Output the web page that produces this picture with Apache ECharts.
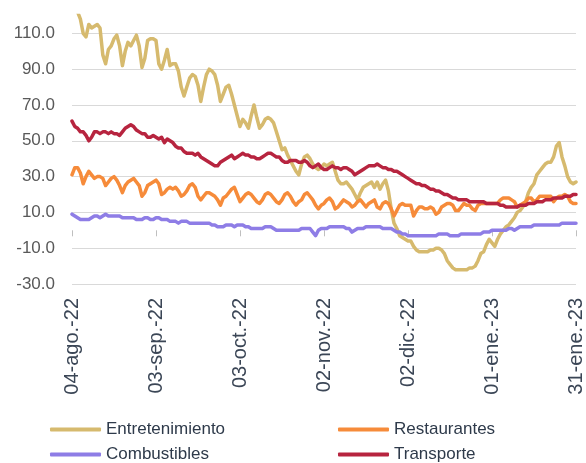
<!DOCTYPE html>
<html>
<head>
<meta charset="utf-8">
<script src="https://cdn.jsdelivr.net/npm/echarts@6/dist/echarts.min.js"></script>
<style>
  html, body { margin: 0; padding: 0; background: #fff; }
  #chart { width: 586px; height: 463px; }
</style>
</head>
<body>
<div id="chart"></div>
<script>
// fechas diarias 04-ago-22 .. 31-ene-23
const startDate = '2022-08-04'
const dayCount = 181
const monthNames = ['ene.', 'feb.', 'mar.', 'abr.', 'may.', 'jun.', 'jul.', 'ago.', 'sep.', 'oct.', 'nov.', 'dic.']

const yTicks = { min: -30, max: 120, interval: 20 }

const entretenimiento = [
  128, 125, 122, 118, 110, 108, 115, 113, 114, 115,
  113, 98, 93, 101, 103, 107, 109, 103, 92, 100,
  105, 103, 106, 109, 103, 91, 96, 106, 107, 107,
  106, 93, 90, 95, 101, 92, 93, 93, 89, 80,
  75, 80, 85, 87, 86, 81, 72, 80, 87, 90,
  89, 87, 81, 72, 76, 80, 81, 76, 70, 64,
  58, 62, 60, 57, 64, 70, 63, 57, 59, 62,
  63, 62, 60, 55, 50, 45, 46, 42, 39, 36,
  33, 31, 37, 41, 42, 40, 37, 35, 34, 35,
  37, 36, 37, 38, 33, 28, 26, 26, 27, 25,
  23, 20, 17, 21, 24, 25, 26, 27, 24, 27,
  23, 26, 28, 22, 12, 4, 1, -3, -4, -5,
  -6, -6, -9, -11, -12, -12, -12, -12, -11, -11,
  -10, -10, -11, -13, -17, -19, -21, -22, -22, -22,
  -22, -22, -21, -21, -20, -17, -13, -12, -8, -5,
  -7, -9, -5, -2, 0, 2, 3, 5, 7, 10,
  11, 13, 16, 21, 24, 26, 31, 33, 35, 37,
  38, 38, 41, 47, 49, 41, 36, 30, 27, 26,
  27
]

const restaurantes = [
  31, 35, 35, 32, 26, 30, 33, 31, 29, 30,
  30, 29, 25, 27, 29, 30, 28, 25, 21, 25,
  27, 28, 29, 27, 25, 19, 21, 25, 26, 27,
  28, 26, 20, 21, 23, 24, 23, 24, 22, 19,
  20, 22, 25, 26, 24, 19, 17, 19, 21, 21,
  20, 19, 17, 14, 18, 19, 21, 23, 24, 20,
  16, 18, 20, 21, 20, 18, 16, 15, 17, 20,
  21, 20, 18, 16, 15, 17, 20, 21, 19, 16,
  14, 16, 17, 20, 21, 19, 17, 14, 12, 14,
  15, 17, 18, 16, 12, 13, 15, 17, 16, 15,
  13, 14, 16, 17, 15, 13, 15, 16, 17, 13,
  12, 15, 16, 15, 12, 8, 11, 14, 15, 14,
  14, 14, 8, 11, 13, 13, 12, 12, 13, 12,
  9, 10, 13, 14, 15, 15, 14, 11, 11, 13,
  15, 14, 14, 12, 11, 14, 15, 15, 15, 15,
  15, 15, 15, 17, 18, 18, 18, 17, 16, 13,
  14, 15, 16, 18, 18, 16, 17, 19, 19, 19,
  19, 19, 16, 18, 19, 19, 20, 19, 16, 15,
  15
]

const combustibles = [
  9, 8, 7, 6, 6, 6, 6, 7, 8, 8,
  7, 8, 9, 8, 8, 8, 8, 8, 7, 7,
  7, 7, 7, 6, 6, 6, 7, 7, 6, 6,
  7, 7, 6, 6, 6, 5, 5, 5, 4, 5,
  5, 5, 4, 4, 4, 4, 4, 4, 4, 4,
  3, 3, 2, 2, 2, 3, 3, 3, 2, 3,
  3, 3, 2, 2, 1, 1, 1, 1, 1, 2,
  2, 2, 1, 0, 0, 0, 0, 0, 0, 0,
  0, 0, 1, 1, 1, 1, -1, -3, 0, 1,
  1, 1, 2, 2, 2, 2, 2, 2, 1, 1,
  -1, 0, 1, 1, 1, 2, 2, 2, 2, 2,
  2, 1, 1, 1, 1, 0, -1, -1, -2, -2,
  -3, -3, -3, -3, -3, -3, -3, -3, -3, -3,
  -3, -2, -2, -2, -2, -3, -3, -3, -3, -2,
  -2, -2, -2, -2, -2, -2, -2, -1, -1, -1,
  0, 0, 0, 0, 0, 0, 1, 1, 0, 1,
  2, 2, 2, 2, 2, 3, 3, 3, 3, 3,
  3, 3, 3, 3, 3, 4, 4, 4, 4, 4,
  4
]

const transporte = [
  61, 58, 57, 55, 55, 53, 50, 52, 55, 55,
  54, 55, 55, 54, 55, 54, 54, 53, 55, 57,
  58, 59, 58, 56, 55, 54, 54, 52, 52, 53,
  52, 51, 52, 49, 51, 50, 49, 47, 46, 46,
  44, 43, 43, 43, 42, 43, 41, 40, 39, 38,
  37, 36, 36, 38, 39, 40, 41, 42, 40, 41,
  42, 43, 42, 42, 41, 41, 40, 40, 41, 42,
  43, 43, 42, 41, 41, 39, 38, 38, 39, 39,
  39, 38, 38, 39, 38, 36, 35, 36, 37, 35,
  34, 34, 35, 36, 35, 35, 34, 35, 35, 34,
  33, 31, 32, 33, 34, 35, 36, 36, 36, 37,
  36, 35, 35, 34, 34, 33, 33, 32, 31, 30,
  29, 28, 27, 26, 26, 25, 25, 24, 23, 23,
  22, 22, 21, 20, 20, 19, 18, 18, 17, 17,
  17, 17, 16, 16, 16, 16, 16, 16, 15, 15,
  15, 15, 15, 14, 14, 13, 13, 13, 13, 13,
  14, 14, 14, 15, 15, 15, 16, 16, 16, 17,
  17, 17, 18, 18, 18, 18, 19, 19, 19, 20,
  20
]

const seriesNames = ['Entretenimiento', 'Restaurantes', 'Combustibles', 'Transporte']
const seriesData = [entretenimiento, restaurantes, combustibles, transporte]
const seriesColors = ['#D6BA6E', '#F68B3A', '#8E7DE6', '#B7243F']

// etiquetas tipo "04-ago.-22"
function buildDates () {
  let out = []
  let d = new Date(startDate + 'T00:00:00Z')
  for (let i = 0; i < dayCount; i++) {
    let dd = String(d.getUTCDate()).padStart(2, '0')
    let yy = String(d.getUTCFullYear()).slice(2)
    out.push(dd + '-' + monthNames[d.getUTCMonth()] + '-' + yy)
    d.setUTCDate(d.getUTCDate() + 1)
  }
  return out
}
const dates = buildDates()

// leyenda 2x2: una leyenda por elemento
const legendPos = [[45, 416], [333, 416], [45, 441], [333, 441]]
function makeLegend (name, i) {
  return {
    data: [name],
    left: legendPos[i][0],
    top: legendPos[i][1],
    itemWidth: 51,
    itemHeight: 4,
    icon: 'roundRect',
    selectedMode: false,
    textStyle: { fontFamily: 'Liberation Sans', fontSize: 17, color: '#2E3A4A' }
  }
}

let myChart = echarts.init(document.getElementById('chart'), null, { renderer: 'canvas' })
let option = {
  animation: false,
  grid: {
    left: 72,
    top: 15.5,
    right: 8,
    bottom: 179
  },
  legend: seriesNames.map(makeLegend),
  xAxis: [{
    type: 'category',
    data: dates,
    position: 'bottom',
    boundaryGap: false,
    axisLine: { show: false, onZero: false },
    axisTick: { show: false },
    splitLine: { show: false },
    axisLabel: {
      interval: 29,
      rotate: 90,
      margin: 14,
      fontFamily: 'Liberation Sans',
      fontSize: 20,
      color: '#3B4656'
    }
  }, {
    // eje en cero: solo marcas
    type: 'category',
    data: dates,
    position: 'top',
    boundaryGap: false,
    axisLine: { show: true, onZero: true, lineStyle: { color: 'rgba(0,0,0,0)' } },
    axisTick: { show: true, interval: 29, inside: true, length: 6, lineStyle: { color: '#BFBFBF', width: 1 } },
    axisLabel: { show: false },
    splitLine: { show: false }
  }],
  yAxis: [{
    type: 'value',
    min: yTicks.min,
    max: yTicks.max,
    interval: yTicks.interval,
    axisLine: { show: false },
    axisTick: { show: false },
    axisLabel: {
      margin: 17,
      showMaxLabel: false,
      fontFamily: 'Liberation Sans',
      fontSize: 17,
      color: '#595959',
      formatter: function (value) {
        return value > 110 ? '' : value.toFixed(1)
      }
    },
    splitLine: {
      show: true,
      showMaxLine: false,
      lineStyle: { color: '#D9D9D9', width: 1 }
    }
  }],
  series: seriesNames.map(function (name, i) {
    return {
      name: name,
      type: 'line',
      data: seriesData[i],
      showSymbol: false,
      symbol: 'none',
      clip: true,
      color: seriesColors[i],
      lineStyle: { width: 3.5, color: seriesColors[i], cap: 'round', join: 'round' }
    }
  })
}
myChart.setOption(option)
</script>
</body>
</html>
